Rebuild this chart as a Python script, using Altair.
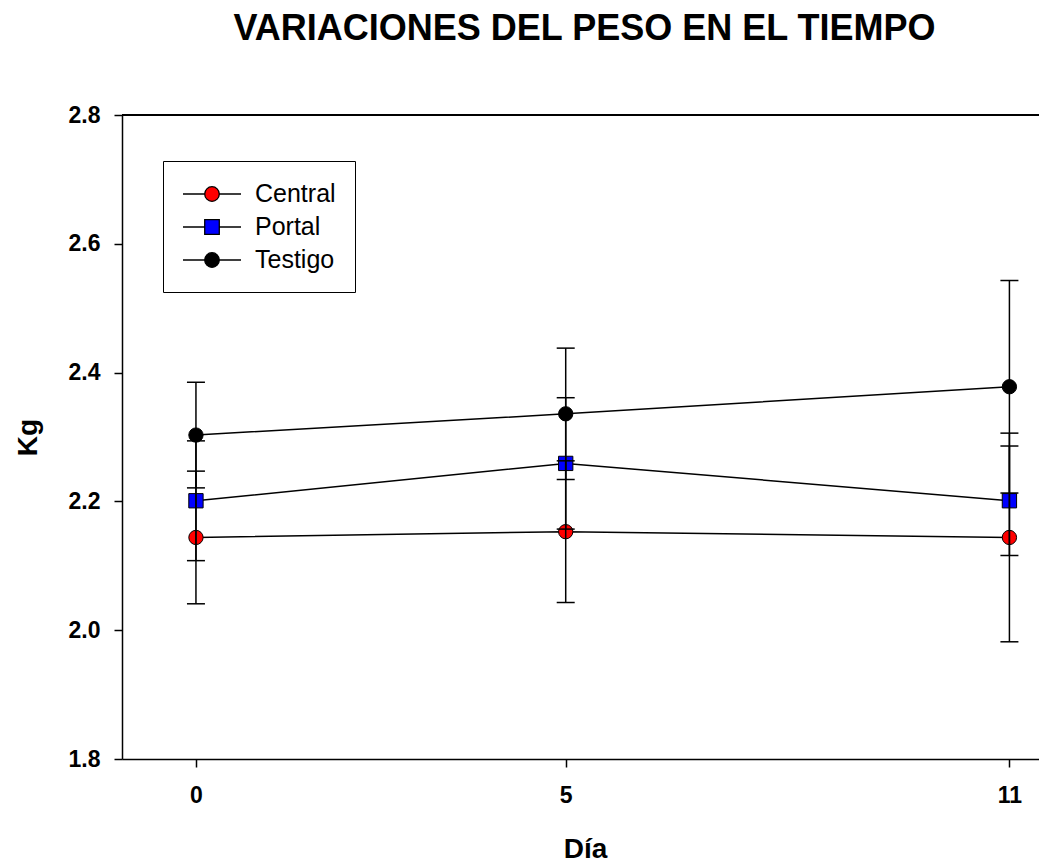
import altair as alt
import pandas as pd

days = [0, 5, 11]
series_names = ["Central", "Portal", "Testigo"]
central_mean = [2.144, 2.153, 2.144]
central_err = [0.103, 0.110, 0.162]
portal_mean = [2.201, 2.259, 2.201]
portal_err = [0.093, 0.102, 0.085]
testigo_mean = [2.303, 2.336, 2.378]
testigo_err = [0.082, 0.102, 0.165]
fills = ["#FF0000", "#0000FF", "#000000"]
shapes = ["circle", "square", "circle"]
y_ticks = [1.8, 2.0, 2.2, 2.4, 2.6, 2.8]

rows = []
for name, means, errs, fill, shape in zip(
    series_names,
    [central_mean, portal_mean, testigo_mean],
    [central_err, portal_err, testigo_err],
    fills,
    shapes,
):
    for d, m, e in zip(days, means, errs):
        rows.append({"series": name, "day": d, "mean": m, "lo": m - e, "hi": m + e,
                     "fill": fill, "shape": shape})
df = pd.DataFrame(rows)

FONT = "Liberation Sans"

xs = alt.Scale(domain=[-1, 11.4], nice=False, zero=False)
ys = alt.Scale(domain=[1.8, 2.8], nice=False, zero=False)
x_axis = alt.Axis(values=days, title="Día", labelPadding=17, titlePadding=28, titleX=463)
y_axis = alt.Axis(values=y_ticks, format=".1f", title="Kg", labelPadding=14, titlePadding=26)

x_enc = alt.X("day:Q", scale=xs, axis=x_axis, title="Día")
base = alt.Chart(df)

lines = base.mark_line(color="black", strokeWidth=1.5).encode(
    x=x_enc,
    y=alt.Y("mean:Q", scale=ys, axis=y_axis, title="Kg"),
    detail="series:N",
)

points = base.mark_point(filled=True, stroke="black", strokeWidth=1, opacity=1, size=205).encode(
    x=x_enc,
    y=alt.Y("mean:Q", scale=ys, axis=y_axis, title="Kg"),
    fill=alt.Fill("fill:N", scale=None),
    shape=alt.Shape("shape:N", scale=None),
)

errbars = base.mark_errorbar(
    ticks={"size": 18, "thickness": 1.5, "color": "black", "opacity": 1},
    rule={"strokeWidth": 1.5, "color": "black"},
).encode(
    x=x_enc,
    y=alt.Y("lo:Q", scale=ys, axis=y_axis, title="Kg"),
    y2="hi:Q",
)

top_rule = alt.Chart(df).mark_rule(color="black", strokeWidth=1.5).encode(y=alt.datum(2.8))

# legend: line-through-marker symbols
r = 0.56
L = 2.231
circ_path = (f"M{-L},0L{-r},0M{r},0L{L},0M{-r},0A{r},{r},0,1,1,{r},0A{r},{r},0,1,1,{-r},0Z")
sq_path = (f"M{-L},0L{-r},0M{r},0L{L},0M{-r},{-r}L{r},{-r}L{r},{r}L{-r},{r}Z")
legend_layer = alt.Chart(pd.DataFrame({"serie": series_names})).transform_filter(
    "false"
).mark_point(filled=True, stroke="black", strokeWidth=1.3, opacity=1).encode(
    x=x_enc,
    y=alt.Y("mean:Q", scale=ys, axis=y_axis, title="Kg"),
    fill=alt.Fill("serie:N", scale=alt.Scale(domain=series_names, range=fills), title=None),
    shape=alt.Shape(
        "serie:N",
        scale=alt.Scale(domain=series_names, range=[circ_path, sq_path, circ_path]),
        title=None,
        legend=alt.Legend(
            orient="none", legendX=41, legendY=46, padding=19,
            strokeColor="black", fillColor="white",
            symbolSize=676, symbolStrokeColor="black", symbolStrokeWidth=1.3,
            symbolOffset=16, labelOffset=29, rowPadding=6,
            labelFont=FONT, labelFontSize=25, labelColor="black",
        ),
    ),
)

chart = alt.layer(lines, points, errbars, top_rule, legend_layer).properties(
    width=917,
    height=644,
    padding={"left": 122, "top": 115, "right": 0, "bottom": 106},
    autosize=alt.AutoSizeParams(type="none"),
    title=alt.Title("VARIACIONES DEL PESO EN EL TIEMPO", font=FONT, fontSize=36,
                    fontWeight="bold", color="black", anchor="middle", offset=28,
                    baseline="alphabetic", dx=4),
).configure_view(stroke=None).configure_axis(
    domainColor="black", domainWidth=1.5, tickColor="black", tickWidth=1.5, tickSize=8,
    labelFont=FONT, labelFontWeight="bold", labelFontSize=23, labelColor="black",
    titleFont=FONT, titleFontWeight="bold", titleFontSize=28, titleColor="black",
    grid=False,
)

chart.save("out.html", embed_options={"renderer": "svg", "actions": False})
